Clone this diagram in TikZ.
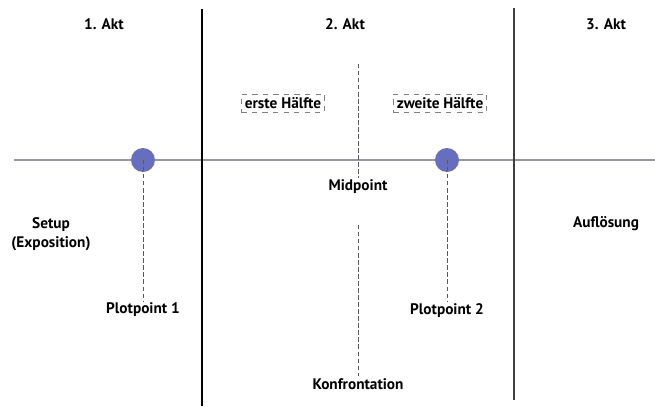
\documentclass[tikz,border=0pt]{standalone}
\usepackage{fontspec}
\setmainfont{PT Sans}
\definecolor{axisgray}{RGB}{150,150,162}
\definecolor{plotblue}{RGB}{104,110,190}
\begin{document}
\begin{tikzpicture}[x=0.02cm,y=-0.02cm, every node/.style={font=\bfseries\fontsize{8.7}{10.5}\selectfont, inner sep=1pt},
    plotdot/.style={circle, fill=plotblue, minimum size=0.48cm, inner sep=0pt},
    halfbox/.style={draw=gray, dashed, inner sep=2pt},
    guide/.style={gray!70!black, dash pattern=on 2.5pt off 1.5pt, thin}]

    % Canvas
    \useasboundingbox (0,0) rectangle (655,406);

    % Act titles
    \node (akt1) at (104, 24) {1. Akt};
    \node (akt2) at (345, 24) {2. Akt};
    \node (akt3) at (606, 24) {3. Akt};

    % Act borders and time line
    \coordinate (b1top) at (202, 9);
    \coordinate (b1bot) at (202, 406);
    \coordinate (b2top) at (514, 8);
    \coordinate (b2bot) at (514, 400);
    \coordinate (lineL) at (14, 160);
    \coordinate (lineR) at (655, 160);
    \draw[axisgray, line width=0.8pt] (lineL) -- (lineR);
    \draw[black, line width=1pt] (b1top) -- (b1bot);
    \draw[black!75, line width=1pt] (b2top) -- (b2bot);

    % Plot points
    \node[plotdot] (pp1) at (143, 160) {};
    \node[plotdot] (pp2) at (447, 160) {};
    \node (pp1label) at (143, 310) {Plotpoint 1};
    \node (pp2label) at (447, 311) {Plotpoint 2};
    \draw[guide] (pp1.center) -- (pp1label.north -| pp1.center);
    \draw[guide] (pp2.center) -- (pp2label.north -| pp2.center);

    % Midpoint
    \coordinate (midtop) at (358, 64);
    \coordinate (midlow) at (358, 225);
    \node (mid) at (358, 187) {Midpoint};
    \node (konf) at (358, 384) {Konfrontation};
    \draw[guide] (midtop) -- (mid.north);
    \draw[guide] (midlow) -- (konf.north);

    % Halves of the second act
    \node[halfbox] (erste) at (283, 103) {erste Hälfte};
    \node[halfbox] (zweite) at (440, 103) {zweite Hälfte};

    % Act contents
    \node[align=center] (setup) at (51, 234) {Setup\\(Exposition)};
    \node (aufl) at (606, 224) {Auflösung};

\end{tikzpicture}
\end{document}
